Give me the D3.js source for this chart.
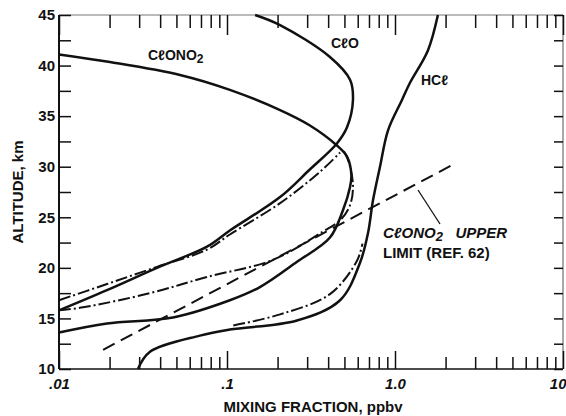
<!DOCTYPE html>
<html>
<head>
<meta charset="utf-8">
<script src="https://d3js.org/d3.v7.min.js"></script>
<style>
body { margin: 0; background: #fff; }
svg text { font-family: "Liberation Sans", Arial, sans-serif; font-weight: bold; fill: #111; }
.curve { fill: none; stroke: #111; stroke-width: 2.5; }
.model { fill: none; stroke: #111; stroke-width: 2; stroke-dasharray: 12 3 2 3; }
.limit { fill: none; stroke: #111; stroke-width: 2; stroke-dasharray: 13 7; }
</style>
</head>
<body>
<svg id="chart" width="566" height="416"></svg>
<script>
// measured profiles, [mixing fraction ppbv, altitude km]
var clono2 = [[0.01,41.1],[0.0201,40.35],[0.0525,39.07],[0.104,37.6],[0.207,35.6],[0.31,34.1],[0.451,32.1],
  [0.518,31.0],[0.55,29.2],[0.54,28.0],[0.49,25.7],[0.41,23.0],[0.261,20.6],[0.157,18.1],[0.104,16.8],
  [0.0477,15.1],[0.0193,14.5],[0.01,13.6]];
var clo = [[0.147,45],[0.207,44.0],[0.41,40.85],[0.54,38.6],[0.562,36.6],[0.518,33.9],[0.451,32.3],[0.31,29.7],
  [0.207,27.0],[0.104,23.7],[0.076,22.1],[0.0383,20.0],[0.0193,17.8],[0.01,15.8]];
var hcl = [[0.0295,10],[0.0348,11.7],[0.069,13.3],[0.104,13.9],[0.261,14.8],[0.471,16.8],[0.619,20.5],
  [0.69,23.4],[0.74,26.7],[0.814,30.0],[0.909,33.6],[1.10,36.6],[1.228,38.3],[1.57,41.5],[1.80,45]];

// model profiles (dash-dot)
var cloModel = [[0.01,16.8],[0.0193,18.4],[0.0383,20.1],[0.076,21.8],[0.104,23.3],[0.207,26.4],[0.358,29.5],[0.471,31.4]];
var clono2Model = [[0.01,15.8],[0.0139,16.1],[0.0348,17.5],[0.076,19.1],[0.188,20.8],[0.373,23.6],[0.471,24.7],
  [0.54,26.2],[0.562,28.2],[0.525,30.7],[0.49,31.7]];
var hclModel = [[0.109,14.3],[0.207,15.4],[0.41,17.4],[0.594,20.7],[0.64,22.4]];

// ClONO2 upper limit (ref. 62)
var upperLimit = [[0.0183,11.9],[2.21,30.2]];

var xDecades = [0.01, 0.1, 1, 10];
var xLabels = [".01", ".1", "1.0", "10"];
var yTicks = [10, 15, 20, 25, 30, 35, 40, 45];

var x = d3.scaleLog().domain([0.01, 10]).range([59, 563]);
var y = d3.scaleLinear().domain([10, 45]).range([369, 15]);

var svg = d3.select("#chart");

var minor = [];
[0.01, 0.1, 1].forEach(function(d) {
  for (var k = 2; k <= 9; k++) minor.push(d * k);
});
var yMinor = d3.range(10, 45.1, 2.5);

function noDomain(g) { g.select(".domain").remove(); }

// frame
svg.append("line").attr("x1", 59).attr("x2", 59).attr("y1", 15).attr("y2", 369)
  .attr("stroke", "#111").attr("stroke-width", 2);
svg.append("line").attr("x1", 59).attr("x2", 563).attr("y1", 369).attr("y2", 369)
  .attr("stroke", "#111").attr("stroke-width", 1.6);
svg.append("line").attr("x1", 59).attr("x2", 563).attr("y1", 15).attr("y2", 15)
  .attr("stroke", "#777").attr("stroke-width", 1);
svg.append("line").attr("x1", 563).attr("x2", 563).attr("y1", 15).attr("y2", 369)
  .attr("stroke", "#555").attr("stroke-width", 1);

// bottom ticks
svg.append("g").attr("transform", "translate(0,369)")
  .call(d3.axisBottom(x).tickValues(minor).tickSize(-12).tickFormat(""))
  .call(noDomain);
var xl = svg.append("g").attr("transform", "translate(0,369)")
  .call(d3.axisBottom(x).tickValues(xDecades).tickSize(-18).tickPadding(9)
    .tickFormat(function(d, i) { return xLabels[i]; }))
  .call(noDomain);
xl.selectAll("text").style("font-size", "15px").style("font-style", "italic");
// last label sits at the window edge: anchor it inside
xl.selectAll("text").filter(function(d) { return d === 10; })
  .attr("text-anchor", "end").attr("x", 3);

// top ticks
svg.append("g").attr("transform", "translate(0,15)")
  .call(d3.axisTop(x).tickValues(minor).tickSize(-13).tickFormat(""))
  .call(noDomain);
svg.append("g").attr("transform", "translate(0,15)")
  .call(d3.axisTop(x).tickValues(xDecades).tickSize(-20).tickFormat(""))
  .call(noDomain);

// left ticks + labels
svg.append("g").attr("transform", "translate(59,0)")
  .call(d3.axisLeft(y).tickValues(yMinor).tickSize(-12).tickFormat(""))
  .call(noDomain);
svg.append("g").attr("transform", "translate(59,0)")
  .call(d3.axisLeft(y).tickValues(yTicks).tickSize(0).tickPadding(4))
  .call(noDomain)
  .selectAll("text").style("font-size", "15px");

// right ticks
svg.append("g").attr("transform", "translate(563,0)")
  .call(d3.axisRight(y).tickValues(yMinor).tickSize(-9).tickFormat(""))
  .call(noDomain);

svg.selectAll(".tick line").attr("stroke", "#111").attr("stroke-width", 1.5);

// axis titles
svg.append("text").attr("x", 313).attr("y", 412).attr("text-anchor", "middle")
  .style("font-size", "15px").text("MIXING FRACTION, ppbv");
svg.append("text").attr("transform", "translate(23,192) rotate(-90)").attr("text-anchor", "middle")
  .style("font-size", "15px").text("ALTITUDE, km");

// curves
var line = d3.line()
  .x(function(d) { return x(d[0]); })
  .y(function(d) { return y(d[1]); })
  .curve(d3.curveCatmullRom.alpha(0.5));

[clono2, clo, hcl].forEach(function(s) {
  svg.append("path").datum(s).attr("class", "curve").attr("d", line);
});
[cloModel, clono2Model, hclModel].forEach(function(s) {
  svg.append("path").datum(s).attr("class", "model").attr("d", line);
});
svg.append("path").datum(upperLimit).attr("class", "limit").attr("d", d3.line()
  .x(function(d) { return x(d[0]); })
  .y(function(d) { return y(d[1]); }));

// leader line for the upper limit label
svg.append("line").attr("x1", 418).attr("y1", 190).attr("x2", 440).attr("y2", 224)
  .attr("stroke", "#111").attr("stroke-width", 1.3);

// curve labels
function chem(px, py, size, parts) {
  var el = svg.append("text").attr("x", px).attr("y", py).style("font-size", size + "px");
  parts.forEach(function(p) {
    var ts = el.append("tspan").text(p[0]);
    if (p[1]) ts.attr("dy", 3).style("font-size", (size - 2) + "px");
    if (p[2]) ts.attr("dy", -3);
  });
  return el;
}
chem(148, 60, 14, [["CℓONO"], ["2", true]]);
chem(331, 48, 14, [["CℓO"]]);
chem(421, 85, 14, [["HCℓ"]]);
chem(383, 238, 15, [["CℓONO"], ["2", true], ["\u00a0\u00a0 UPPER", false, true]]).style("font-style", "italic");
svg.append("text").attr("x", 383).attr("y", 258).style("font-size", "15px")
  .text("LIMIT (REF. 62)");
</script>
</body>
</html>
